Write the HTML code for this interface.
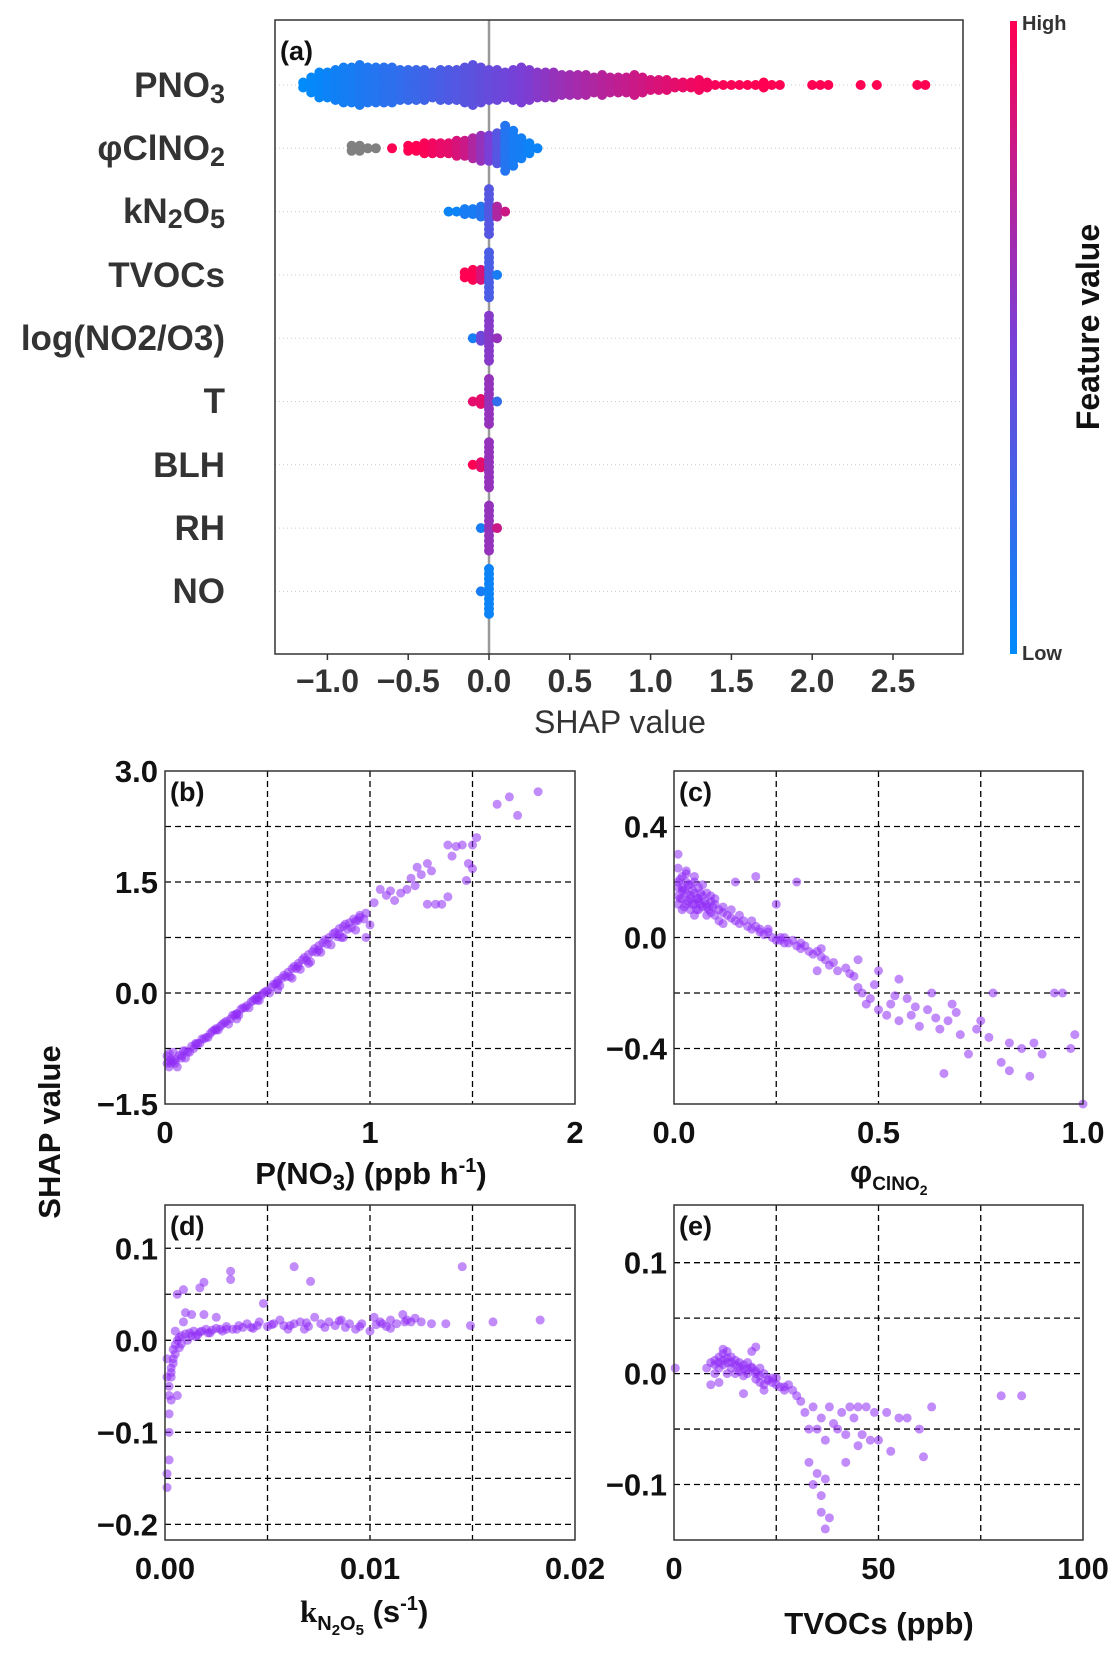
<!DOCTYPE html>
<html><head><meta charset="utf-8">
<style>
html,body{margin:0;padding:0;background:#fff;}
svg{display:block;font-family:"Liberation Sans",sans-serif;}
.tk{font-size:31px;font-weight:bold;fill:#111;}
.tkA{font-size:32px;font-weight:bold;fill:#333;}
.lab{font-size:31px;font-weight:bold;fill:#111;}
.row{font-size:35px;font-weight:bold;fill:#333;}
.pl{font-size:27px;font-weight:bold;fill:#111;}
</style></head>
<body>
<svg id="fig" width="1117" height="1653" viewBox="0 0 1117 1653" xmlns="http://www.w3.org/2000/svg">
<defs>
<linearGradient id="cbar" x1="0" y1="1" x2="0" y2="0">
<stop offset="0" stop-color="#008bfb"/><stop offset="0.5" stop-color="#7a3fd6"/><stop offset="1" stop-color="#ff0052"/>
</linearGradient>
</defs>
<g id="pa"></g>
<g id="pb"></g>
<g id="pc"></g>
<g id="pd"></g>
<g id="pe"></g>
<g id="txt">
<text class="pl" x="280" y="60">(a)</text>
<text class="row" x="225" y="97" text-anchor="end">PNO<tspan font-size="27" dy="6">3</tspan></text>
<text class="row" x="225" y="160" text-anchor="end">φClNO<tspan font-size="27" dy="6">2</tspan></text>
<text class="row" x="225" y="223" text-anchor="end">kN<tspan font-size="27" dy="5">2</tspan><tspan dy="-5">O</tspan><tspan font-size="27" dy="5">5</tspan></text>
<text class="row" x="225" y="287" text-anchor="end">TVOCs</text>
<text class="row" x="225" y="350" text-anchor="end">log(NO2/O3)</text>
<text class="row" x="225" y="413" text-anchor="end">T</text>
<text class="row" x="225" y="477" text-anchor="end">BLH</text>
<text class="row" x="225" y="540" text-anchor="end">RH</text>
<text class="row" x="225" y="603" text-anchor="end">NO</text>
<text x="620" y="733" text-anchor="middle" font-size="32" fill="#333">SHAP value</text>
<rect x="1010" y="21" width="7" height="633" fill="url(#cbar)"/>
<text x="1022" y="30" font-size="20" font-weight="bold" fill="#333">High</text>
<text x="1022" y="660" font-size="20" font-weight="bold" fill="#333">Low</text>
<text transform="translate(1099,327) rotate(-90)" text-anchor="middle" font-size="32" font-weight="bold" fill="#111">Feature value</text>
<text transform="translate(60,1132) rotate(-90)" text-anchor="middle" class="lab">SHAP value</text>
<text class="lab" x="371" y="1184" text-anchor="middle">P(NO<tspan font-size="22" dy="6">3</tspan><tspan dy="-6">) (ppb h</tspan><tspan font-size="20" dy="-12">-1</tspan><tspan dy="12">)</tspan></text>
<text class="lab" x="850" y="1182">φ<tspan font-size="19" dy="8">ClNO</tspan><tspan font-size="14" dy="5">2</tspan></text>
<text class="lab" x="300" y="1622"><tspan font-family="Liberation Serif">k</tspan><tspan font-size="20" dy="8">N</tspan><tspan font-size="15" dy="5">2</tspan><tspan font-size="20" dy="-5">O</tspan><tspan font-size="15" dy="5">5</tspan><tspan dy="-13"> (s</tspan><tspan font-size="20" dy="-12">-1</tspan><tspan dy="12">)</tspan></text>
<text class="lab" x="879" y="1634" text-anchor="middle">TVOCs (ppb)</text>
</g>
</svg>
<script>
// ---------- Panel (a) beeswarm data (binned, step 0.05) ----------
const features = ["PNO3","phiClNO2","kN2O5","TVOCs","logNO2O3","T","BLH","RH","NO"];
const binStart = [-1.15,-0.85,-0.25,-0.15,-0.10,-0.10,-0.10,-0.05,-0.05];
const pno3Counts = [2,4,6,6,7,8,8,9,8,8,8,8,7,7,7,7,6,7,7,7,8,9,8,7,7,6,7,8,7,6,6,6,5,5,5,5,4,5,4,4,4,5,4,3,3,3,2,2,2,3,2,1,1,1,1,1,1,2,1,1,0,0,0,1,1,1,0,0,0,1,0,1,0,0,0,0,1,1];
const pno3Feat = [0,0.02,0.03,0.05,0.07,0.08,0.1,0.12,0.13,0.15,0.17,0.18,0.2,0.22,0.24,0.26,0.28,0.3,0.32,0.34,0.36,0.38,0.4,0.42,0.44,0.46,0.48,0.5,0.52,0.55,0.57,0.6,0.62,0.64,0.66,0.68,0.7,0.72,0.74,0.76,0.78,0.8,0.82,0.84,0.86,0.88,0.9,0.92,0.94,0.95,0.96,0.97,0.98,0.98,0.99,1,1,1,1,1,1,1,1,1,1,1,1,1,1,1,1,1,1,1,1,1,1,1];
const clCounts = [2,2,1,1,0,1,0,2,2,3,3,3,3,4,4,5,6,6,7,10,8,5,3,1];
const clFeat = [-1,-1,-1,-1,1,1,1,1,1,0.98,0.95,0.92,0.9,0.85,0.8,0.7,0.6,0.5,0.35,0.15,0.1,0.08,0.05,0.05];
const kCounts = [1,1,2,2,3,10,3,1];
const kFeat = [0.05,0.05,0.1,0.1,0.15,0.35,0.7,0.8];
const tvCounts = [2,3,3,10,1];
const tvFeat = [1,1,0.85,0.3,0.1];
const logCounts = [1,2,10,1];
const logFeat = [0.1,0.45,0.55,0.6];
const tCounts = [1,2,10,1];
const tFeat = [0.9,0.9,0.6,0.2];
const blhCounts = [1,2,10];
const blhFeat = [1,0.9,0.6];
const rhCounts = [1,10,1];
const rhFeat = [0.1,0.6,0.8];
const noCounts = [1,10];
const noFeat = [0.1,0.05];
const rowCounts = [pno3Counts,clCounts,kCounts,tvCounts,logCounts,tCounts,blhCounts,rhCounts,noCounts];
const rowFeats = [pno3Feat,clFeat,kFeat,tvFeat,logFeat,tFeat,blhFeat,rhFeat,noFeat];
const shapTicks = [-1.0,-0.5,0.0,0.5,1.0,1.5,2.0,2.5];

// ---------- Dependence plot data ----------
const pno3X = [0.01,0.02,0.03,0.04,0.05,0.06,0.08,0.1,0.1,0.12,0.14,0.15,0.17,0.18,0.2,0.22,0.24,0.25,0.27,0.28,0.3,0.32,0.33,0.35,0.37,0.38,0.4,0.42,0.43,0.45,0.47,0.48,0.5,0.52,0.53,0.55,0.57,0.58,0.6,0.62,0.63,0.65,0.67,0.68,0.7,0.72,0.73,0.75,0.77,0.78,0.8,0.82,0.83,0.85,0.87,0.88,0.9,0.92,0.93,0.95,0.97,0.98,1.0,0.93,0.87,0.98,0.62,0.55,0.45,0.35,0.7,1.02,1.05,1.08,1.1,1.12,1.15,1.18,1.2,1.22,1.25,1.23,1.28,1.3,1.32,1.35,1.28,1.38,1.4,1.42,1.45,1.48,1.5,1.5,1.52,1.38,1.62,1.68,1.72,1.82,1.47,0.02,0.05,0.08,0.13,0.16,0.21,0.26,0.31,0.36,0.41,0.46,0.51,0.56,0.61,0.66,0.71,0.76,0.81,0.86,0.91,0.01,0.03,0.07,0.11,0.19,0.23,0.29,0.34,0.39,0.44,0.49,0.54,0.59,0.64,0.69,0.74,0.79,0.84,0.89,0.94,0.02,0.04,0.09,0.15,0.25,0.35,0.45,0.55,0.65,0.75,0.85,0.95];
const pno3Y = [-0.85,-1.0,-0.95,-0.8,-0.9,-1.0,-0.85,-0.78,-0.88,-0.8,-0.75,-0.7,-0.68,-0.62,-0.6,-0.55,-0.5,-0.48,-0.45,-0.42,-0.38,-0.35,-0.3,-0.28,-0.22,-0.2,-0.17,-0.12,-0.1,-0.06,-0.03,0.0,0.03,0.08,0.12,0.17,0.2,0.24,0.28,0.33,0.36,0.4,0.45,0.48,0.52,0.56,0.6,0.64,0.68,0.72,0.75,0.8,0.82,0.87,0.9,0.93,0.95,1.0,0.97,1.05,1.0,1.08,0.92,0.85,0.75,0.75,0.2,0.05,-0.1,-0.35,0.4,1.22,1.4,1.32,1.38,1.25,1.35,1.4,1.55,1.45,1.6,1.7,1.75,1.65,1.2,1.2,1.2,1.3,1.85,1.98,2.0,1.75,2.0,1.68,2.1,2.0,2.55,2.65,2.4,2.72,1.52,-0.92,-0.95,-0.88,-0.72,-0.68,-0.6,-0.5,-0.42,-0.3,-0.2,-0.1,0.0,0.1,0.22,0.32,0.42,0.55,0.65,0.75,0.88,-0.95,-0.9,-0.84,-0.8,-0.62,-0.52,-0.4,-0.3,-0.2,-0.08,0.02,0.12,0.22,0.33,0.44,0.55,0.66,0.76,0.86,0.98,-0.82,-0.92,-0.78,-0.68,-0.5,-0.28,-0.07,0.14,0.36,0.58,0.8,1.02];
const phiX = [0.01,0.01,0.01,0.01,0.01,0.02,0.02,0.02,0.02,0.03,0.03,0.03,0.03,0.04,0.04,0.04,0.05,0.05,0.05,0.05,0.06,0.06,0.06,0.07,0.07,0.08,0.08,0.08,0.09,0.09,0.1,0.1,0.11,0.11,0.12,0.12,0.13,0.14,0.15,0.15,0.16,0.17,0.18,0.19,0.2,0.21,0.22,0.23,0.24,0.25,0.26,0.27,0.28,0.29,0.3,0.31,0.32,0.33,0.34,0.35,0.36,0.37,0.38,0.4,0.42,0.44,0.45,0.46,0.47,0.48,0.5,0.52,0.53,0.55,0.57,0.58,0.6,0.62,0.63,0.65,0.67,0.68,0.7,0.72,0.75,0.77,0.8,0.82,0.85,0.88,0.9,0.93,0.95,0.97,0.98,1.0,0.66,0.45,0.3,0.2,0.25,0.35,0.5,0.55,0.78,0.87,0.82,0.02,0.04,0.06,0.08,0.1,0.14,0.19,0.23,0.27,0.01,0.015,0.025,0.035,0.045,0.055,0.065,0.075,0.085,0.095,0.015,0.025,0.035,0.045,0.055,0.065,0.03,0.05,0.07,0.09,0.12,0.16,0.21,0.26,0.31,0.36,0.39,0.43,0.49,0.54,0.59,0.64,0.69,0.74];
const phiY = [0.3,0.25,0.2,0.15,0.12,0.22,0.18,0.14,0.1,0.24,0.2,0.16,0.12,0.19,0.14,0.1,0.2,0.16,0.12,0.08,0.18,0.14,0.1,0.15,0.11,0.16,0.12,0.08,0.13,0.09,0.12,0.08,0.1,0.06,0.09,0.05,0.08,0.07,0.06,0.2,0.05,0.06,0.04,0.03,0.04,0.02,0.01,0.02,0.0,-0.01,0.0,-0.02,-0.02,-0.01,-0.03,-0.04,-0.03,-0.05,-0.06,-0.05,-0.07,-0.08,-0.1,-0.12,-0.11,-0.14,-0.18,-0.2,-0.24,-0.22,-0.26,-0.28,-0.24,-0.3,-0.22,-0.28,-0.32,-0.26,-0.2,-0.33,-0.3,-0.24,-0.35,-0.42,-0.3,-0.36,-0.45,-0.48,-0.4,-0.38,-0.42,-0.2,-0.2,-0.4,-0.35,-0.6,-0.49,-0.08,0.2,0.22,0.12,-0.12,-0.12,-0.15,-0.2,-0.5,-0.38,0.17,0.15,0.13,0.11,0.14,0.1,0.06,0.03,0.0,0.18,0.21,0.17,0.13,0.17,0.1,0.16,0.13,0.1,0.11,0.14,0.11,0.19,0.12,0.14,0.12,0.23,0.22,0.19,0.15,0.11,0.08,0.03,-0.01,-0.02,-0.04,-0.09,-0.13,-0.17,-0.21,-0.25,-0.29,-0.27,-0.33];
const kX = [0.0001,0.0001,0.0002,0.0002,0.0002,0.0003,0.0002,0.0003,0.0003,0.0004,0.0004,0.0005,0.0006,0.0007,0.0008,0.001,0.0012,0.0014,0.0016,0.0018,0.002,0.0022,0.0025,0.0028,0.003,0.0033,0.0036,0.004,0.0043,0.0046,0.005,0.0053,0.0056,0.006,0.0063,0.0066,0.007,0.0073,0.0076,0.008,0.0083,0.0086,0.009,0.0093,0.0096,0.01,0.0102,0.0105,0.0108,0.011,0.0113,0.0116,0.012,0.0125,0.013,0.0137,0.0149,0.016,0.0183,0.0145,0.0063,0.0071,0.0032,0.0032,0.0017,0.0019,0.0009,0.0006,0.001,0.0013,0.0019,0.0025,0.0005,0.0009,0.0048,0.0001,0.0001,0.0006,0.0002,0.0004,0.0007,0.0011,0.0015,0.0021,0.0027,0.0035,0.0042,0.0058,0.0068,0.0088,0.0106,0.0118,0.0003,0.0005,0.0008,0.0013,0.0017,0.0023,0.003,0.0038,0.0045,0.0052,0.0061,0.0069,0.0078,0.0085,0.0095,0.0103,0.011,0.0117,0.0122];
const kY = [-0.16,-0.145,-0.13,-0.1,-0.06,-0.065,-0.05,-0.04,-0.03,-0.02,-0.01,-0.005,0.0,0.003,0.005,0.007,0.008,0.01,0.006,0.01,0.012,0.008,0.013,0.01,0.015,0.012,0.016,0.018,0.013,0.02,0.015,0.018,0.022,0.012,0.018,0.02,0.015,0.025,0.018,0.02,0.016,0.022,0.018,0.012,0.018,0.01,0.025,0.02,0.015,0.022,0.018,0.028,0.02,0.02,0.018,0.018,0.016,0.02,0.022,0.08,0.08,0.064,0.075,0.066,0.057,0.063,0.055,0.05,0.03,0.028,0.028,0.025,0.01,0.02,0.04,-0.02,-0.04,-0.06,-0.08,-0.025,-0.008,0.0,0.004,0.008,0.012,0.012,0.014,0.016,0.012,0.014,0.018,0.022,-0.035,-0.015,-0.004,0.005,0.009,0.011,0.012,0.014,0.016,0.017,0.016,0.019,0.014,0.021,0.015,0.017,0.013,0.02,0.024];
const tvX = [0.3,8,9,10,10,11,11,12,12,13,13,13,14,14,15,15,16,16,17,17,18,18,19,19,20,20,21,21,22,22,23,24,25,26,27,28,29,30,9,11,17,22,12,20,31,32,33,34,35,36,37,38,39,40,41,42,43,44,45,46,47,49,50,52,53,55,57,60,61,63,33,34,35,36,37,38,37,36,42,45,48,80,85,10,12,14,16,18,20,24,11,13,15,17,19,21,23,25,27];
const tvY = [0.005,0.005,0.01,0.012,0.0,0.015,0.005,0.018,0.008,0.02,0.01,0.0,0.015,0.005,0.012,0.0,0.01,0.002,0.008,-0.002,0.01,0.0,0.02,0.005,0.0,-0.005,0.005,-0.008,0.0,-0.01,-0.005,-0.008,-0.01,-0.012,-0.015,-0.01,-0.015,-0.02,-0.01,-0.008,-0.018,-0.015,0.022,0.024,-0.025,-0.035,-0.05,-0.03,-0.05,-0.04,-0.06,-0.03,-0.045,-0.05,-0.035,-0.055,-0.03,-0.04,-0.03,-0.055,-0.03,-0.035,-0.06,-0.035,-0.07,-0.04,-0.04,-0.05,-0.075,-0.03,-0.08,-0.1,-0.09,-0.11,-0.095,-0.13,-0.14,-0.125,-0.08,-0.065,-0.06,-0.02,-0.02,0.008,0.012,0.01,0.006,0.004,0.002,-0.004,0.01,0.014,0.008,0.004,0.006,-0.002,-0.006,-0.004,-0.012];

const NS = "http://www.w3.org/2000/svg";
function mk(parent, tag, attrs){ const e=document.createElementNS(NS,tag); for(const k in attrs) e.setAttribute(k,attrs[k]); parent.appendChild(e); return e; }
function lerp(a,b,t){return Math.round(a+(b-a)*t);}
function cmap(v){
  if(v<0) return "#808080";
  const A=[0,139,251], M=[122,63,214], B=[255,0,82];
  let c; if(v<0.5){const t=v/0.5;c=[lerp(A[0],M[0],t),lerp(A[1],M[1],t),lerp(A[2],M[2],t)];}
  else {const t=(v-0.5)/0.5;c=[lerp(M[0],B[0],t),lerp(M[1],B[1],t),lerp(M[2],B[2],t)];}
  return `rgb(${c[0]},${c[1]},${c[2]})`;
}

// ---------- Panel (a) ----------
(function(){
  const g=document.getElementById('pa');
  const L=275,R=963,T=20,B=654;
  const sx=v=>489+v*161.6;
  const rowY=i=>85+i*63.3;
  for(let i=0;i<features.length;i++){
    const ln=mk(g,'line',{x1:L,x2:R,y1:rowY(i),y2:rowY(i),stroke:'#ccc','stroke-width':1,'stroke-dasharray':'1,3'});
    
    
  }
  const z=mk(g,'line',{x1:sx(0),x2:sx(0),y1:T,y2:B,stroke:'#999','stroke-width':2.5});
  
  
  for(let i=0;i<features.length;i++){
    const cg=mk(g,'g',{});
    
    
    const counts=rowCounts[i], feats=rowFeats[i];
    for(let b=0;b<counts.length;b++){
      const c=counts[b]; const v=binStart[i]+b*0.05;
      const col=cmap(feats[Math.min(b,feats.length-1)]);
      for(let k=0;k<c;k++){
        const off=(k-(c-1)/2)*5;
        const dot=mk(cg,'circle',{cx:sx(v),cy:rowY(i)+off,r:5,fill:col});
        
        
      }
    }
  }
  const fr=mk(g,'rect',{x:L,y:T,width:R-L,height:B-T,fill:'none',stroke:'#333','stroke-width':1.5});
  
  
  shapTicks.forEach(t=>{
    mk(g,'line',{x1:sx(t),x2:sx(t),y1:B,y2:B+6,stroke:'#333','stroke-width':1.5});
    const tx=mk(g,'text',{x:sx(t),y:692,'text-anchor':'middle',class:'tkA'});
    tx.textContent=(t<0?'\u2212':'')+Math.abs(t).toFixed(1);
    
    
  });
})();

// ---------- Dependence panels ----------
function depPanel(id,label,box,xd,yd,xgrid,ygrid,xticks,yticks,xfmt,yfmt,xs,ys){
  const g=document.getElementById(id);
  const sx=v=>box.L+(v-xd[0])/(xd[1]-xd[0])*(box.R-box.L);
  const sy=v=>box.B-(v-yd[0])/(yd[1]-yd[0])*(box.B-box.T);
  xgrid.forEach(v=>{const l=mk(g,'line',{x1:sx(v),x2:sx(v),y1:box.T,y2:box.B,stroke:'#000','stroke-width':1.3,'stroke-dasharray':'6,4'});
    
    });
  ygrid.forEach(v=>{const l=mk(g,'line',{x1:box.L,x2:box.R,y1:sy(v),y2:sy(v),stroke:'#000','stroke-width':1.3,'stroke-dasharray':'6,4'});
    
    });
  for(let i=0;i<xs.length;i++){
    const d=mk(g,'circle',{cx:sx(xs[i]),cy:sy(ys[i]),r:4.5,fill:'#8f2cf5','fill-opacity':0.55});
    
    
  }
  const fr=mk(g,'rect',{x:box.L,y:box.T,width:box.R-box.L,height:box.B-box.T,fill:'none',stroke:'#333','stroke-width':1.5});
  
  
  xticks.forEach(v=>{const t=mk(g,'text',{x:sx(v),y:box.B+39,'text-anchor':'middle',class:'tk'}); t.textContent=xfmt(v);
    
    });
  yticks.forEach(v=>{const t=mk(g,'text',{x:box.L-7,y:sy(v)+11,'text-anchor':'end',class:'tk'}); t.textContent=yfmt(v);
    
    });
  const pl=mk(g,'text',{x:box.L+5,y:box.T+30,class:'pl'}); pl.textContent=label;
  
  
}
const f=(d)=>v=>(v<0?'\u2212':'')+Math.abs(v).toFixed(d);
depPanel('pb','(b)',{L:165,R:575,T:771,B:1104},[0,2],[-1.5,3],[0.5,1,1.5],[-0.75,0,0.75,1.5,2.25],[0,1,2],[-1.5,0,1.5,3.0],f(0),f(1),pno3X,pno3Y);
depPanel('pc','(c)',{L:674,R:1083,T:771,B:1104},[0,1],[-0.6,0.6],[0.25,0.5,0.75],[-0.4,-0.2,0,0.2,0.4],[0,0.5,1],[-0.4,0,0.4],f(1),f(1),phiX,phiY);
depPanel('pd','(d)',{L:165,R:575,T:1205,B:1540},[0,0.02],[-0.217,0.147],[0.005,0.01,0.015],[-0.2,-0.15,-0.1,-0.05,0,0.05,0.1],[0,0.01,0.02],[-0.2,-0.1,0,0.1],f(2),f(1),kX,kY);
depPanel('pe','(e)',{L:674,R:1083,T:1205,B:1540},[0,100],[-0.15,0.152],[25,50,75],[-0.1,-0.05,0,0.05,0.1],[0,50,100],[-0.1,0,0.1],f(0),f(1),tvX,tvY);
</script>
</body></html>
